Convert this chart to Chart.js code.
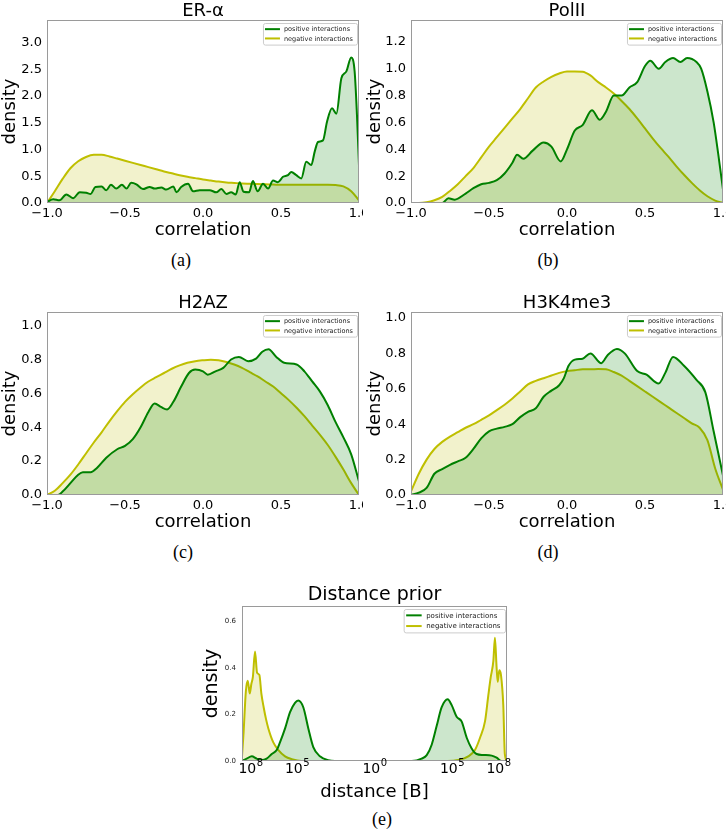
<!DOCTYPE html>
<html>
<head>
<meta charset="utf-8">
<script src="https://cdn.jsdelivr.net/npm/chart.js@4.4.1/dist/chart.umd.min.js"></script>
<style>
  body { margin: 0; background: #fff; }
  #fig { position: relative; width: 726px; height: 839px; overflow: hidden; background: #fff; }
  #fig canvas, .cap { position: absolute; }
  .cap { width: 100px; text-align: center; font: 18px "Liberation Serif", serif; line-height: 20px; color: #000; }
</style>
</head>
<body>
<div id="fig">
  <canvas id="pa" width="363" height="241" style="left:0px;top:0px"></canvas>
  <canvas id="pb" width="361" height="241" style="left:365px;top:0px"></canvas>
  <canvas id="pc" width="363" height="241" style="left:0px;top:292px"></canvas>
  <canvas id="pd" width="361" height="241" style="left:365px;top:292px"></canvas>
  <canvas id="pe" width="312" height="217" style="left:201px;top:586px"></canvas>
  <div class="cap" style="left:131px;top:250px">(a)</div>
  <div class="cap" style="left:498px;top:250px">(b)</div>
  <div class="cap" style="left:133px;top:542px">(c)</div>
  <div class="cap" style="left:498px;top:542px">(d)</div>
  <div class="cap" style="left:332px;top:809px">(e)</div>
</div>
<script>
// shared correlation grid for the smooth "negative" curves
const gridX = [-1, -0.95, -0.9, -0.85, -0.8, -0.75, -0.7, -0.65, -0.6, -0.55, -0.5, -0.45, -0.4, -0.35, -0.3, -0.25, -0.2, -0.15, -0.1, -0.05,
               0, 0.05, 0.1, 0.15, 0.2, 0.25, 0.3, 0.35, 0.4, 0.45, 0.5, 0.55, 0.6, 0.65, 0.7, 0.75, 0.8, 0.85, 0.9, 0.95, 1];

// (a) ER-alpha
const erNegY = [0, 0.22, 0.45, 0.65, 0.78, 0.86, 0.90, 0.90, 0.87, 0.83, 0.79, 0.75, 0.71, 0.67, 0.63, 0.59, 0.555, 0.52, 0.49, 0.465,
                0.44, 0.42, 0.40, 0.385, 0.375, 0.365, 0.36, 0.355, 0.35, 0.345, 0.34, 0.34, 0.34, 0.34, 0.34, 0.34, 0.34, 0.335, 0.31, 0.22, 0.05];
const erPosX = [-1, -0.96, -0.92, -0.876, -0.833, -0.79, -0.748, -0.72, -0.69, -0.65, -0.62, -0.59, -0.556, -0.52, -0.49, -0.46, -0.427, -0.385, -0.342, -0.31,
                -0.267, -0.235, -0.19, -0.17, -0.14, -0.096, -0.064, -0.021, 0.043, 0.085, 0.118, 0.15, 0.18, 0.21, 0.235, 0.26, 0.295, 0.32, 0.35, 0.385,
                0.417, 0.449, 0.48, 0.513, 0.545, 0.566, 0.598, 0.63, 0.662, 0.694, 0.716, 0.737, 0.769, 0.795, 0.827, 0.855, 0.887, 0.919, 0.95, 0.972, 0.987, 1];
const erPosY = [0.02, 0.07, 0.05, 0.16, 0.09, 0.2, 0.19, 0.17, 0.3, 0.31, 0.24, 0.34, 0.27, 0.34, 0.27, 0.38, 0.35, 0.26, 0.3, 0.27,
                0.29, 0.25, 0.31, 0.2, 0.3, 0.36, 0.22, 0.24, 0.24, 0.2, 0.26, 0.17, 0.2, 0.16, 0.39, 0.21, 0.2, 0.41, 0.22, 0.36,
                0.27, 0.42, 0.39, 0.49, 0.52, 0.58, 0.52, 0.46, 0.77, 0.71, 0.96, 1.14, 1.17, 1.52, 1.77, 1.67, 2.33, 2.46, 2.72, 2.46, 1.64, 0.7];

// (b) PolII
const polNegY = [0, 0, 0.005, 0.02, 0.045, 0.09, 0.14, 0.2, 0.26, 0.34, 0.42, 0.49, 0.56, 0.63, 0.70, 0.78, 0.86, 0.905, 0.94, 0.965,
                 0.98, 0.98, 0.978, 0.95, 0.90, 0.86, 0.815, 0.76, 0.70, 0.63, 0.555, 0.48, 0.41, 0.345, 0.275, 0.21, 0.15, 0.095, 0.05, 0.018, 0];
const polPosX = [-1, -0.8, -0.76, -0.72, -0.65, -0.6, -0.55, -0.5, -0.45, -0.4, -0.35, -0.32, -0.28, -0.22, -0.15, -0.1, -0.04, 0, 0.05, 0.1,
                 0.16, 0.21, 0.25, 0.3, 0.35, 0.4, 0.45, 0.5, 0.534, 0.588, 0.63, 0.68, 0.727, 0.77, 0.83, 0.86, 0.9, 0.94, 0.97, 1];
const polPosY = [0, 0, 0.035, 0.025, 0.07, 0.11, 0.14, 0.15, 0.17, 0.22, 0.30, 0.36, 0.33, 0.39, 0.45, 0.42, 0.31, 0.40, 0.54, 0.58,
                 0.69, 0.62, 0.68, 0.80, 0.80, 0.86, 0.90, 1.02, 1.06, 1.00, 1.05, 1.08, 1.05, 1.08, 1.05, 1.0, 0.83, 0.6, 0.36, 0.1];

// (c) H2AZ
const h2azNegY = [0, 0.025, 0.07, 0.12, 0.18, 0.245, 0.31, 0.37, 0.435, 0.495, 0.55, 0.595, 0.635, 0.67, 0.695, 0.72, 0.745, 0.765, 0.78, 0.79,
                  0.795, 0.798, 0.795, 0.785, 0.77, 0.75, 0.725, 0.70, 0.67, 0.64, 0.60, 0.56, 0.515, 0.465, 0.41, 0.355, 0.295, 0.225, 0.15, 0.07, 0];
const h2azPosX = [-1, -0.93, -0.9, -0.85, -0.8, -0.77, -0.72, -0.68, -0.62, -0.55, -0.5, -0.45, -0.4, -0.35, -0.31, -0.27, -0.23, -0.19, -0.14, -0.09, -0.05,
                  0, 0.03, 0.08, 0.13, 0.18, 0.23, 0.29, 0.34, 0.38, 0.42, 0.47, 0.52, 0.6, 0.65, 0.7, 0.75, 0.8, 0.85, 0.9, 0.95, 1];
const h2azPosY = [0, 0, 0.02, 0.07, 0.12, 0.135, 0.135, 0.16, 0.22, 0.27, 0.29, 0.33, 0.40, 0.49, 0.54, 0.52, 0.505, 0.55, 0.64, 0.72, 0.74,
                  0.73, 0.71, 0.73, 0.75, 0.80, 0.815, 0.79, 0.805, 0.845, 0.86, 0.815, 0.78, 0.77, 0.73, 0.67, 0.61, 0.53, 0.43, 0.34, 0.24, 0.08];

// (d) H3K4me3
const h3NegY = [0.02, 0.12, 0.2, 0.26, 0.30, 0.33, 0.355, 0.38, 0.40, 0.425, 0.45, 0.48, 0.51, 0.545, 0.585, 0.625, 0.645, 0.66, 0.675, 0.69,
                0.70, 0.705, 0.71, 0.71, 0.712, 0.71, 0.695, 0.675, 0.645, 0.615, 0.585, 0.555, 0.525, 0.495, 0.465, 0.435, 0.405, 0.38, 0.31, 0.15, 0.03];
const h3PosX = [-1, -0.95, -0.9, -0.85, -0.8, -0.75, -0.7, -0.65, -0.6, -0.55, -0.5, -0.45, -0.4, -0.35, -0.3, -0.25, -0.2, -0.15, -0.1, -0.05,
                -0.02, 0.01, 0.05, 0.1, 0.15, 0.22, 0.26, 0.32, 0.37, 0.45, 0.51, 0.587, 0.63, 0.68, 0.75, 0.83, 0.887, 0.94, 1];
const h3PosY = [0, 0.013, 0.04, 0.12, 0.146, 0.17, 0.19, 0.21, 0.26, 0.32, 0.36, 0.375, 0.385, 0.40, 0.44, 0.47, 0.49, 0.555, 0.59, 0.62,
                0.66, 0.73, 0.765, 0.77, 0.80, 0.745, 0.79, 0.825, 0.80, 0.70, 0.68, 0.63, 0.69, 0.78, 0.73, 0.65, 0.58, 0.36, 0.11];

// (e) distance prior, x = signed log10 of distance
const distNegX = [-8.55, -8.45, -8.3, -8.18, -8.05, -7.95, -7.85, -7.71, -7.58, -7.43, -7.3, -7.15, -7.0, -6.85, -6.53, -6.2, -5.77, -5.34, -4.7, -4.0,
                  4.0, 4.7, 5.41, 6.05, 6.48, 6.81, 7.13, 7.34, 7.5, 7.67, 7.77, 7.88, 7.95, 8.05, 8.16, 8.31, 8.41, 8.55];
const distNegY = [0.02, 0.12, 0.30, 0.345, 0.29, 0.33, 0.36, 0.47, 0.38, 0.37, 0.29, 0.23, 0.18, 0.14, 0.08, 0.047, 0.02, 0.008, 0, 0,
                  0, 0, 0.004, 0.02, 0.047, 0.1, 0.17, 0.28, 0.36, 0.43, 0.53, 0.40, 0.34, 0.39, 0.37, 0.24, 0.03, 0];
const distPosX = [-8.55, -8.25, -7.92, -7.6, -7.28, -6.96, -6.63, -6.31, -6.1, -5.77, -5.45, -5.13, -4.92, -4.59, -4.27, -3.95, -3.52, -2.98, -2.55,
                  2.4, 3.04, 3.37, 3.69, 4.01, 4.33, 4.72, 4.98, 5.3, 5.62, 5.95, 6.27, 6.59, 7.02, 7.56, 7.88, 8.2, 8.55];
const distPosY = [0, 0.01, 0.02, 0.01, 0.004, 0.01, 0.03, 0.047, 0.08, 0.14, 0.21, 0.25, 0.26, 0.23, 0.14, 0.06, 0.02, 0.003, 0,
                  0, 0.01, 0.025, 0.07, 0.15, 0.23, 0.265, 0.24, 0.19, 0.17, 0.10, 0.054, 0.03, 0.026, 0.023, 0.014, 0, 0];
const distTickValues = [-8, -5, 0, 5, 8];
const distTickBase = '10';
const distTickExp = ['8', '5', '0', '5', '8'];

const seriesNames = ['positive interactions', 'negative interactions'];

const GREEN = 'rgb(0,128,0)';
const GREEN_FILL = 'rgba(0,128,0,0.2)';
const YELLOW = 'rgb(191,191,0)';
const YELLOW_FILL = 'rgba(191,191,0,0.2)';

Chart.defaults.font.family = '"DejaVu Sans", sans-serif';
Chart.defaults.color = '#000';

function pts(xs, ys) {
    return xs.map((x, i) => ({x: x, y: ys[i]}));
}

function minusFmt(v) {
    return v.toFixed(1).replace('-', '\u2212');
}

// grey box round the plot area (all four spines)
const frame = {
    id: 'frame',
    afterDatasetsDraw(chart) {
        const {ctx, chartArea: a} = chart;
        ctx.save();
        ctx.strokeStyle = '#9a9a9a';
        ctx.lineWidth = 1;
        ctx.strokeRect(a.left + 0.5, a.top + 0.5, a.right - a.left - 1, a.bottom - a.top - 1);
        ctx.restore();
    }
};

// matplotlib style legend in the upper right corner of the plot
const cornerLegend = {
    id: 'cornerLegend',
    afterDraw(chart, args, o) {
        const {ctx, chartArea: a} = chart;
        const sets = chart.data.datasets;
        ctx.save();
        ctx.font = o.size + 'px "DejaVu Sans"';
        const textW = Math.max(...sets.map(d => ctx.measureText(d.label).width));
        const w = o.padX + o.line + o.gap + textW + o.padX + 2;
        const h = o.row * sets.length + o.padY * 2;
        const x = a.right - o.inset - w;
        const y = a.top + o.insetTop;
        ctx.beginPath();
        ctx.roundRect(x + 0.5, y + 0.5, w, h, 2);
        ctx.fillStyle = 'rgba(255,255,255,0.8)';
        ctx.fill();
        ctx.strokeStyle = '#cccccc';
        ctx.lineWidth = 1;
        ctx.stroke();
        sets.forEach((d, i) => {
            const cy = y + o.padY + o.row * (i + 0.5);
            ctx.beginPath();
            ctx.moveTo(x + o.padX, cy);
            ctx.lineTo(x + o.padX + o.line, cy);
            ctx.strokeStyle = d.borderColor;
            ctx.lineWidth = 2;
            ctx.stroke();
            ctx.fillStyle = '#222';
            ctx.textBaseline = 'middle';
            ctx.textAlign = 'left';
            ctx.fillText(d.label, x + o.padX + o.line + o.gap, cy + 0.5);
        });
        ctx.restore();
    }
};

// power-of-ten tick labels (10 with a raised exponent) at the x scale's ticks
const expTicks = {
    id: 'expTicks',
    afterDraw(chart) {
        const {ctx, chartArea: a} = chart;
        const xs = chart.scales.x;
        const baseY = a.bottom + 12;
        ctx.save();
        ctx.fillStyle = '#000';
        ctx.textBaseline = 'alphabetic';
        ctx.textAlign = 'left';
        xs.ticks.forEach((t, i) => {
            ctx.font = '14px "DejaVu Sans"';
            const wBase = ctx.measureText(distTickBase).width;
            ctx.font = '10px "DejaVu Sans"';
            const wExp = ctx.measureText(distTickExp[i]).width;
            const left = xs.getPixelForValue(t.value) - (wBase + wExp) / 2;
            ctx.font = '14px "DejaVu Sans"';
            ctx.fillText(distTickBase, left, baseY);
            ctx.font = '10px "DejaVu Sans"';
            ctx.fillText(distTickExp[i], left + wBase + 0.5, baseY - 7.5);
        });
        ctx.restore();
    }
};

function series(label, xs, ys, color, fillColor) {
    return {
        label: label,
        data: pts(xs, ys),
        borderColor: color,
        backgroundColor: fillColor,
        borderWidth: 2,
        fill: 'origin',
        pointRadius: 0,
        cubicInterpolationMode: 'monotone'
    };
}

function panel(id, c) {
    const xScale = {
        type: 'linear',
        min: c.xMin,
        max: c.xMax,
        grid: {display: false, drawTicks: false},
        border: {display: false},
        ticks: {
            display: !c.xTicks,
            stepSize: 0.5,
            autoSkip: false,
            maxRotation: 0,
            padding: 3,
            font: {size: 13},
            callback: minusFmt
        },
        title: {display: true, text: c.xLabel, font: {size: 18}, padding: 0},
        afterFit(s) {
            s.height = c.xH;
            s.paddingLeft = 0;
            s.paddingRight = 0;
        }
    };
    const extra = [frame, cornerLegend];
    if (c.xTicks) {
        xScale.afterBuildTicks = s => {
            s.ticks = c.xTicks.map(v => ({value: v}));
        };
        extra.push(expTicks);
    }
    return new Chart(document.getElementById(id), {
        type: 'line',
        data: {
            datasets: [
                series(seriesNames[0], c.posX, c.posY, GREEN, GREEN_FILL),
                series(seriesNames[1], c.negX, c.negY, YELLOW, YELLOW_FILL)
            ]
        },
        options: {
            responsive: false,
            animation: false,
            events: [],
            layout: {padding: {left: 0, top: 0, bottom: 0, right: c.padRight}},
            plugins: {
                legend: {display: false},
                tooltip: {enabled: false},
                title: {
                    display: true,
                    text: c.title,
                    fullSize: false,
                    color: '#000',
                    font: {size: c.titleSize, weight: 'normal', lineHeight: 1},
                    padding: {top: c.titleTop, bottom: c.titleBottom}
                },
                cornerLegend: c.legend
            },
            scales: {
                x: xScale,
                y: {
                    min: 0,
                    max: c.yMax,
                    grid: {display: false, drawTicks: false},
                    border: {display: false},
                    ticks: {
                        stepSize: c.yStep,
                        includeBounds: false,
                        padding: c.yTickPad,
                        font: {size: c.yTickSize},
                        color: c.yTickColor || '#000',
                        callback: v => v.toFixed(1)
                    },
                    title: {display: true, text: 'density', font: {size: c.yLabelSize}, padding: 0},
                    afterFit(s) {
                        s.width = c.yW;
                        s.paddingTop = 0;
                        s.paddingBottom = 0;
                    }
                }
            }
        },
        plugins: extra
    });
}

const smallLegend = {size: 6.5, row: 9.3, padX: 2, padY: 1.5, line: 15, gap: 4, inset: 2, insetTop: 3};

const corrBase = {
    xMin: -1, xMax: 1, xLabel: 'correlation', xH: 38,
    negX: gridX, titleSize: 18, titleTop: 2, titleBottom: 0,
    yTickSize: 13, yTickPad: 5, yLabelSize: 18, legend: smallLegend
};

panel('pa', Object.assign({}, corrBase, {
    title: 'ER-\u03b1', posX: erPosX, posY: erPosY, negY: erNegY,
    yMax: 3.42, yStep: 0.5, yW: 47, padRight: 4
}));

panel('pb', Object.assign({}, corrBase, {
    title: 'PolII', posX: polPosX, posY: polPosY, negY: polNegY,
    yMax: 1.363, yStep: 0.2, yW: 46, padRight: 3
}));

panel('pc', Object.assign({}, corrBase, {
    title: 'H2AZ', posX: h2azPosX, posY: h2azPosY, negY: h2azNegY,
    yMax: 1.08, yStep: 0.2, yW: 47, padRight: 4
}));

panel('pd', Object.assign({}, corrBase, {
    title: 'H3K4me3', posX: h3PosX, posY: h3PosY, negY: h3NegY,
    yMax: 1.034, yStep: 0.2, yW: 46, padRight: 3
}));

panel('pe', {
    xMin: -8.55, xMax: 8.55, xLabel: 'distance [B]', xH: 42, xTicks: distTickValues,
    posX: distPosX, posY: distPosY, negX: distNegX, negY: distNegY,
    title: 'Distance prior', titleSize: 19, titleTop: 0, titleBottom: 1,
    yMax: 0.666, yStep: 0.2, yW: 41, padRight: 6,
    yTickSize: 7, yTickPad: 6, yTickColor: '#222', yLabelSize: 19,
    legend: {size: 7, row: 10.7, padX: 2.5, padY: 1, line: 15.5, gap: 4.5, inset: 2, insetTop: 3}
});
</script>
</body>
</html>
